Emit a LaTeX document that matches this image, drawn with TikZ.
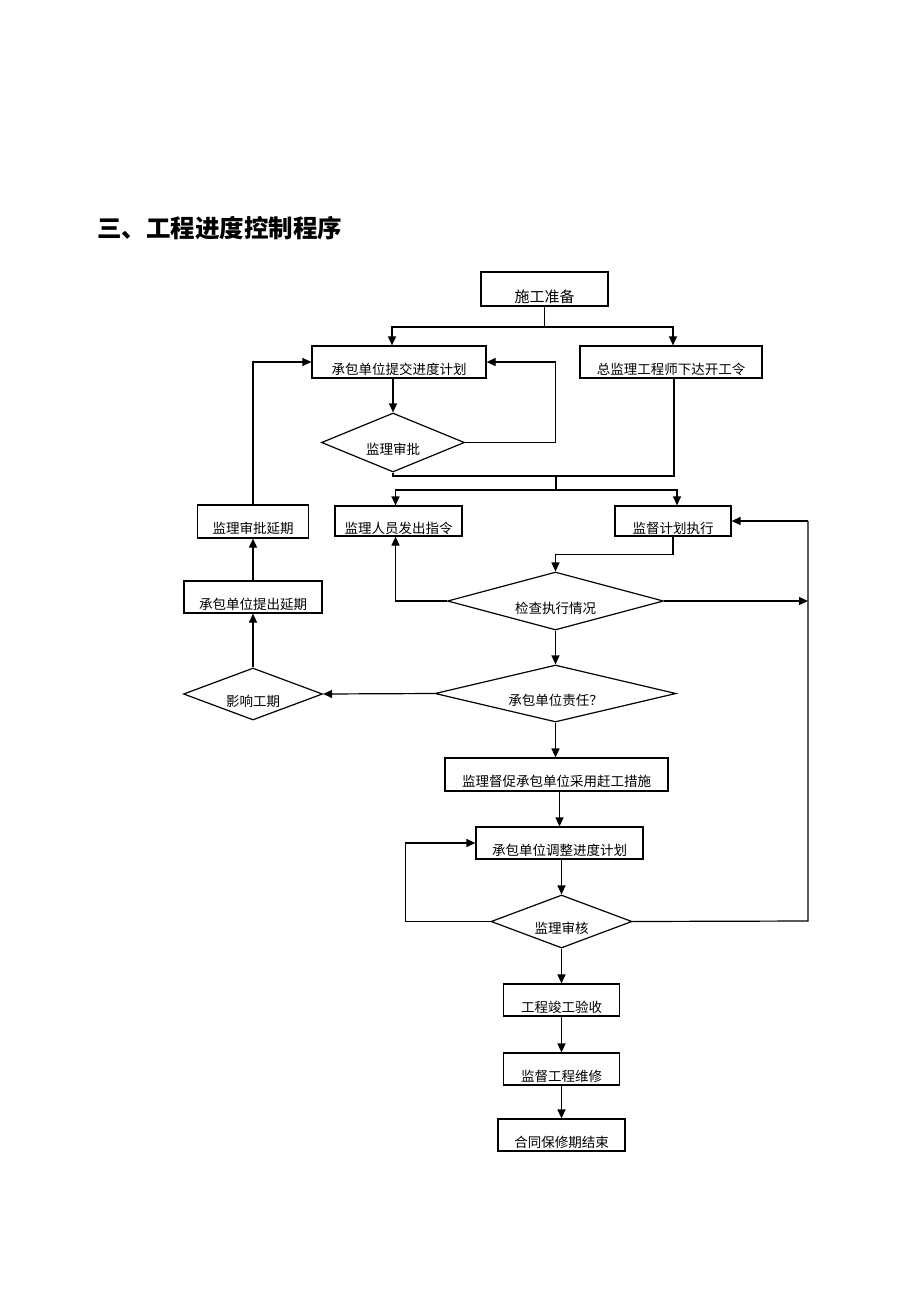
\documentclass[tikz,border=0pt]{standalone}
\usepackage{fontspec}
\newfontfamily\cjk{Noto Sans CJK SC}
\usetikzlibrary{arrows.meta,shapes.geometric}
\begin{document}
\begin{tikzpicture}[x=1pt,y=-1pt,
  ln/.style={line width=1.2pt},
  arr/.style={ln,-{Triangle[length=9pt,width=8pt]}},
  lbl/.style={font=\cjk\fontsize{13.5}{14}\selectfont,yshift=-7pt,inner sep=0},
  box/.style={draw,ln,rectangle,inner sep=0},
  dia/.style={draw,ln,diamond,inner sep=0},
  bt/.style={label={[lbl]center:#1}},
]
\fill[white] (0,0) rectangle (920,1302);
\useasboundingbox (0,0) rectangle (920,1302);

\node[font=\cjk\bfseries\fontsize{24.5}{26}\selectfont,anchor=west,inner sep=0] (title) at (97,228) {三、工程进度控制程序};

\node[box,minimum width=127pt,minimum height=34pt,label={[lbl,font=\cjk\fontsize{15}{16}\selectfont,yshift=-1pt]center:施工准备}] (s1) at (544.5,289) {};
\node[box,minimum width=174pt,minimum height=32pt,bt=承包单位提交进度计划] (s2) at (399,362) {};
\node[box,minimum width=182pt,minimum height=32pt,bt=总监理工程师下达开工令] (s3) at (671,362) {};
\node[dia,minimum width=143pt,minimum height=59pt,bt=监理审批] (d1) at (393,442.5) {};
\node[box,minimum width=127pt,minimum height=30pt,bt=监理人员发出指令] (s4) at (398.5,521) {};
\node[box,minimum width=116pt,minimum height=30pt,bt=监督计划执行] (s5) at (673,521) {};
\node[dia,minimum width=216pt,minimum height=58pt,bt=检查执行情况] (d2) at (555.5,601) {};
\node[dia,minimum width=241pt,minimum height=57pt,bt=承包单位责任？] (d3) at (555.5,693.5) {};
\node[dia,minimum width=139pt,minimum height=52pt,bt=影响工期] (d4) at (253,694) {};
\node[box,minimum width=138pt,minimum height=32pt,bt=承包单位提出延期] (s6) at (253,597) {};
\node[box,minimum width=111pt,minimum height=33pt,bt=监理审批延期] (s7) at (253,521.5) {};
\node[box,minimum width=223pt,minimum height=33pt,bt=监理督促承包单位采用赶工措施] (s8) at (556.5,774.5) {};
\node[box,minimum width=167pt,minimum height=32pt,bt=承包单位调整进度计划] (s9) at (559.5,843) {};
\node[dia,minimum width=141pt,minimum height=53pt,bt=监理审核] (d5) at (561.5,921.5) {};
\node[box,minimum width=116pt,minimum height=32pt,bt=工程竣工验收] (s10) at (561.5,1000) {};
\node[box,minimum width=116pt,minimum height=32pt,bt=监督工程维修] (s11) at (561.5,1069) {};
\node[box,minimum width=127pt,minimum height=32pt,bt=合同保修期结束] (s12) at (561.5,1135) {};

\coordinate (j1) at (544.5,327);
\coordinate (j2) at (556,476);
\coordinate (j3) at (556,490);
\coordinate (rt) at (808,521);
\coordinate (rb) at (808,921);

% top split
\draw[ln] (s1.south) -- (j1);
\draw[arr] (j1) -| ([xshift=-7pt]s2.north);
\draw[arr] (j1) -| ([xshift=2pt]s3.north);
% plan -> approval loop
\draw[arr] (s2.south -| d1.north) -- (d1.north);
\draw[arr] (d1.east) -- ++(90,0) |- (s2.east);
% merge
\draw[ln] (d1.south) |- ([xshift=3pt]s3.south |- j2) -- ([xshift=3pt]s3.south);
\draw[ln] (j2) -- (j3);
\draw[arr] (j3) -| ([xshift=-3pt]s4.north);
\draw[arr] (j3) -| ([xshift=4pt]s5.north);
% execution
\draw[arr] (s5.south) -- ++(0,18) -| (d2.north);
\draw[arr] (d2.west) -| ([xshift=-3pt]s4.south);
\draw[arr] (d2.east) -- (d2.east -| rt);
\draw[ln] (d5.east) -- (rb) -- (rt);
\draw[arr] (rt) -- (s5.east);
\draw[arr] (d2.south) -- (d3.north);
% delay branch
\draw[arr] (d3.west) -- (d4.east);
\draw[arr] (d4.north) -- (s6.south);
\draw[arr] (s6.north) -- (s7.south);
\draw[arr] (s7.north) |- (s2.west);
% catch-up branch
\draw[arr] (d3.south) -- (d3.south |- s8.north);
\draw[arr] (s8.south -| s9.north) -- (s9.north);
\draw[arr] (s9.south -| d5.north) -- (d5.north);
\draw[arr] (d5.west) -- ++(-85,0) |- (s9.west);
\draw[arr] (d5.south) -- (s10.north);
\draw[arr] (s10.south) -- (s11.north);
\draw[arr] (s11.south) -- (s12.north);
\end{tikzpicture}
\end{document}
